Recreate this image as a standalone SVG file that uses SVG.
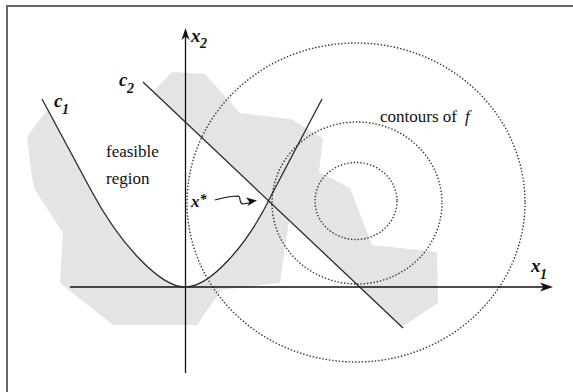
<svg xmlns="http://www.w3.org/2000/svg" width="573" height="392" viewBox="0 0 573 392">
<style>
.lbl{font-family:"Liberation Serif","Times New Roman",serif;font-size:17px;fill:#111}
.it{font-style:italic}
.m{font-style:italic;font-weight:bold;font-size:19px}
.sub{font-size:14px}
.dot{fill:none;stroke:#333;stroke-width:1.4;stroke-dasharray:1.4 1.9}
.crv{fill:none;stroke:#2a2a2a;stroke-width:1.3}
.ax{fill:none;stroke:#111;stroke-width:1.3}
</style>
<defs>
<clipPath id="belowc2"><polygon points="0,-53.3 600,514.4 0,514.4"/></clipPath>
</defs>
<rect x="0" y="0" width="573" height="392" fill="#fff"/>
<rect x="7" y="6" width="590" height="410" fill="none" stroke="#666" stroke-width="2"/>
<g id="shaded">
<polygon fill="#e4e4e4" points="172,72 205,74 240,113 291,119 323,138 319,172 350,188 372,245 437,252 438,303 402,327 289,220 280,283 221,290 197,325 113,325 60,283 63,233 35,190 32,177 27,137 43,115 80,80 155,90"/>
<path fill="#fff" clip-path="url(#belowc2)" d="M10,40 L92,192 C120,244 160,287 185,287 C210,287 247,246 272,194 L353,40 Z"/>
</g>
<g id="contours">
<ellipse class="dot" cx="356" cy="201" rx="41" ry="38.5"/>
<ellipse class="dot" cx="357" cy="203" rx="85" ry="81"/>
<ellipse class="dot" cx="356" cy="202.5" rx="169" ry="159.5"/>
</g>
<g id="axes">
<line class="ax" x1="70" y1="287" x2="548" y2="287"/>
<path d="M553,287 L540,282.5 L543.5,287 L540,291.5 Z" fill="#111"/>
<line class="ax" x1="185.5" y1="373" x2="185.5" y2="33"/>
<path d="M185.5,28 L181.5,40 L185.5,36.5 L189.5,40 Z" fill="#111"/>
</g>
<g id="c1">
<path class="crv" d="M42,99 L92,192 C120,244 160,287 185,287 C210,287 247,246 272,194 L322,99"/>
</g>
<g id="c2">
<line class="crv" x1="143" y1="82" x2="403" y2="328"/>
</g>
<g id="xstar-arrow">
<path fill="none" stroke="#111" stroke-width="1.1" d="M215,200 C224,197.5 231,196 238,196 C242,197 238,203.5 243,204 L251,202.5"/>
<path d="M257,200.5 L246,197.5 L249.5,202 L247.5,206 Z" fill="#111"/>
</g>
<g id="labels">
<text class="lbl m" x="191" y="42">x<tspan class="sub" x="200" y="48">2</tspan></text>
<text class="lbl m" x="531" y="272">x<tspan class="sub" x="540" y="279">1</tspan></text>
<text class="lbl m" x="54" y="107">c<tspan class="sub" x="62" y="114">1</tspan></text>
<text class="lbl m" x="119" y="86">c<tspan class="sub" x="127" y="93">2</tspan></text>
<text class="lbl" x="106" y="157">feasible</text>
<text class="lbl" x="106" y="184">region</text>
<text class="lbl" x="380" y="122">contours of <tspan class="it" x="465">f</tspan></text>
<text class="lbl m" x="191" y="207" style="font-size:17px">x<tspan class="sub" dy="-3">*</tspan></text>
</g>
</svg>
